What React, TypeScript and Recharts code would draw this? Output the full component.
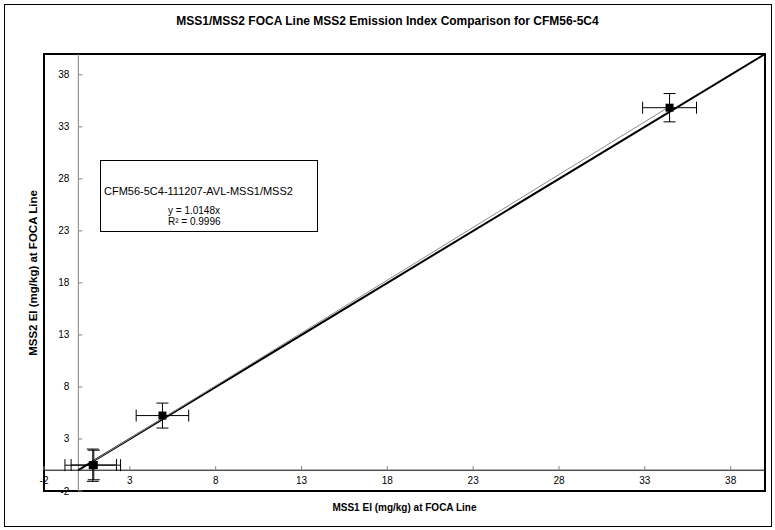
import React from 'react';
import {
  ScatterChart,
  Scatter,
  XAxis,
  YAxis,
  ZAxis,
  ErrorBar,
  ReferenceLine,
  ReferenceArea,
} from 'recharts';

// ---- data ----
const xTicks = [-2, 3, 8, 13, 18, 23, 28, 33, 38];
const yTicks = [-2, 3, 8, 13, 18, 23, 28, 33, 38];
const mss1EI = [0.84, 0.9, 4.9, 34.44];
const mss2EI = [0.48, 0.5, 5.25, 34.84];
const mss1Err = [1.62, 1.32, 1.53, 1.57];
const mss2Err = [1.55, 1.42, 1.2, 1.36];
const trendX = [0.84, 34.44];
const trendY = [0.85, 34.95];
const unityX = [0, 40];
const unityY = [0, 40];
const X_DOMAIN: [number, number] = [-2, 40];
const Y_DOMAIN: [number, number] = [-2, 40];

const points = mss1EI.map((x, i) => ({ x, y: mss2EI[i], xErr: mss1Err[i], yErr: mss2Err[i] }));
const trendSeg = trendX.map((x, i) => ({ x, y: trendY[i] }));
const unitySeg = unityX.map((x, i) => ({ x, y: unityY[i] }));

// ---- layout ----
const W = 775;
const H = 530;
const AXIS_W = 1;
const AXIS_H = 1;
const MARGIN = { top: 54, right: 10, bottom: 39 - AXIS_H, left: 44 - AXIS_W };
const PLOT_W = W - 44 - 10;
const PLOT_H = H - 54 - 39;
// distance of the zero lines from the plot's left / bottom edges
const Y_AXIS_OFF = ((0 - X_DOMAIN[0]) / (X_DOMAIN[1] - X_DOMAIN[0])) * PLOT_W;
const X_AXIS_OFF = ((0 - Y_DOMAIN[0]) / (Y_DOMAIN[1] - Y_DOMAIN[0])) * PLOT_H;

const FONT = '"Liberation Sans", Arial, sans-serif';

const renderXTick = (props: any) => {
  const { x, payload } = props;
  const base = 54 + PLOT_H - X_AXIS_OFF;
  return (
    <g key={`xt-${payload.value}`}>
      <line x1={x} x2={x} y1={base} y2={base - 4} stroke="#808080" strokeWidth={1} />
      <text x={x} y={base + 14} textAnchor="middle" fontSize={10} fontFamily={FONT} fill="#000">
        {payload.value}
      </text>
    </g>
  );
};

const renderYTick = (props: any) => {
  const { y, payload } = props;
  const base = 44 + Y_AXIS_OFF;
  return (
    <g key={`yt-${payload.value}`}>
      <line x1={base} x2={base + 4} y1={y} y2={y} stroke="#808080" strokeWidth={1} />
      <text x={base - 9} y={y} dy="0.35em" textAnchor="end" fontSize={10} fontFamily={FONT} fill="#000">
        {payload.value}
      </text>
    </g>
  );
};

const SquareMarker = (props: any) => {
  const { cx, cy } = props;
  return <rect x={cx - 4} y={cy - 4} width={8} height={8} fill="#000" />;
};

export default function App() {
  return (
    <div
      style={{
        position: 'absolute',
        left: 0,
        top: 0,
        width: W,
        height: H,
        background: '#fff',
        fontFamily: FONT,
      }}
    >
      <div
        style={{
          position: 'absolute',
          left: 4,
          top: 4,
          width: 766,
          height: 521,
          border: '1px solid #000',
        }}
      />
      <div
        style={{
          position: 'absolute',
          left: 0,
          top: 13,
          width: W,
          textAlign: 'center',
          fontSize: 12,
          fontWeight: 'bold',
          lineHeight: '16px',
        }}
      >
        MSS1/MSS2 FOCA Line MSS2 Emission Index Comparison for CFM56-5C4
      </div>
      <div style={{ position: 'absolute', left: 0, top: 0 }}>
        <ScatterChart width={W} height={H} margin={MARGIN}>
          <XAxis
            type="number"
            dataKey="x"
            domain={X_DOMAIN}
            ticks={xTicks}
            interval={0}
            allowDataOverflow
            axisLine={false}
            tickLine={false}
            height={AXIS_H}
            tick={renderXTick}
          />
          <YAxis
            type="number"
            dataKey="y"
            domain={Y_DOMAIN}
            ticks={yTicks}
            interval={0}
            allowDataOverflow
            axisLine={false}
            tickLine={false}
            width={AXIS_W}
            tick={renderYTick}
          />
          <ZAxis range={[64, 64]} />
          <ReferenceLine x={0} stroke="#808080" strokeWidth={1} />
          <ReferenceLine y={0} stroke="#000" strokeWidth={1} />
          <ReferenceLine segment={unitySeg} stroke="#000" strokeWidth={2} />
          <ReferenceLine segment={trendSeg} stroke="#8a8a8a" strokeWidth={1} />
          <Scatter data={points} fill="#000" shape={<SquareMarker />} isAnimationActive={false}>
            <ErrorBar dataKey="xErr" direction="x" width={6} stroke="#000" strokeWidth={1} isAnimationActive={false} />
            <ErrorBar dataKey="yErr" direction="y" width={6} stroke="#000" strokeWidth={1} isAnimationActive={false} />
          </Scatter>
          <ReferenceArea
            x1={X_DOMAIN[0]}
            x2={X_DOMAIN[1]}
            y1={Y_DOMAIN[0]}
            y2={Y_DOMAIN[1]}
            fill="none"
            fillOpacity={0}
            stroke="#000"
            strokeWidth={2}
            ifOverflow="visible"
          />
        </ScatterChart>
      </div>
      <div
        style={{
          position: 'absolute',
          left: 0,
          top: 501,
          width: 44 * 2 + PLOT_W,
          textAlign: 'center',
          fontSize: 10,
          fontWeight: 'bold',
          lineHeight: '14px',
        }}
      >
        MSS1 EI (mg/kg) at FOCA Line
      </div>
      <div
        style={{
          position: 'absolute',
          left: 33 - 100,
          top: 54 + PLOT_H / 2 - 8,
          width: 200,
          textAlign: 'center',
          fontSize: 11.5,
          fontWeight: 'bold',
          lineHeight: '16px',
          transform: 'rotate(-90deg)',
        }}
      >
        MSS2 EI (mg/kg) at FOCA Line
      </div>
      <div
        style={{
          position: 'absolute',
          left: 100,
          top: 160,
          width: 216,
          height: 70,
          border: '1px solid #000',
          background: '#fff',
        }}
      >
        <div style={{ position: 'absolute', left: 3, top: 23, fontSize: 11, lineHeight: '14px', whiteSpace: 'nowrap' }}>
          CFM56-5C4-111207-AVL-MSS1/MSS2
        </div>
        <div style={{ position: 'absolute', left: 67, top: 44, fontSize: 10, lineHeight: '11px', whiteSpace: 'nowrap' }}>
          y = 1.0148x
          <br />
          R² = 0.9996
        </div>
      </div>
    </div>
  );
}
